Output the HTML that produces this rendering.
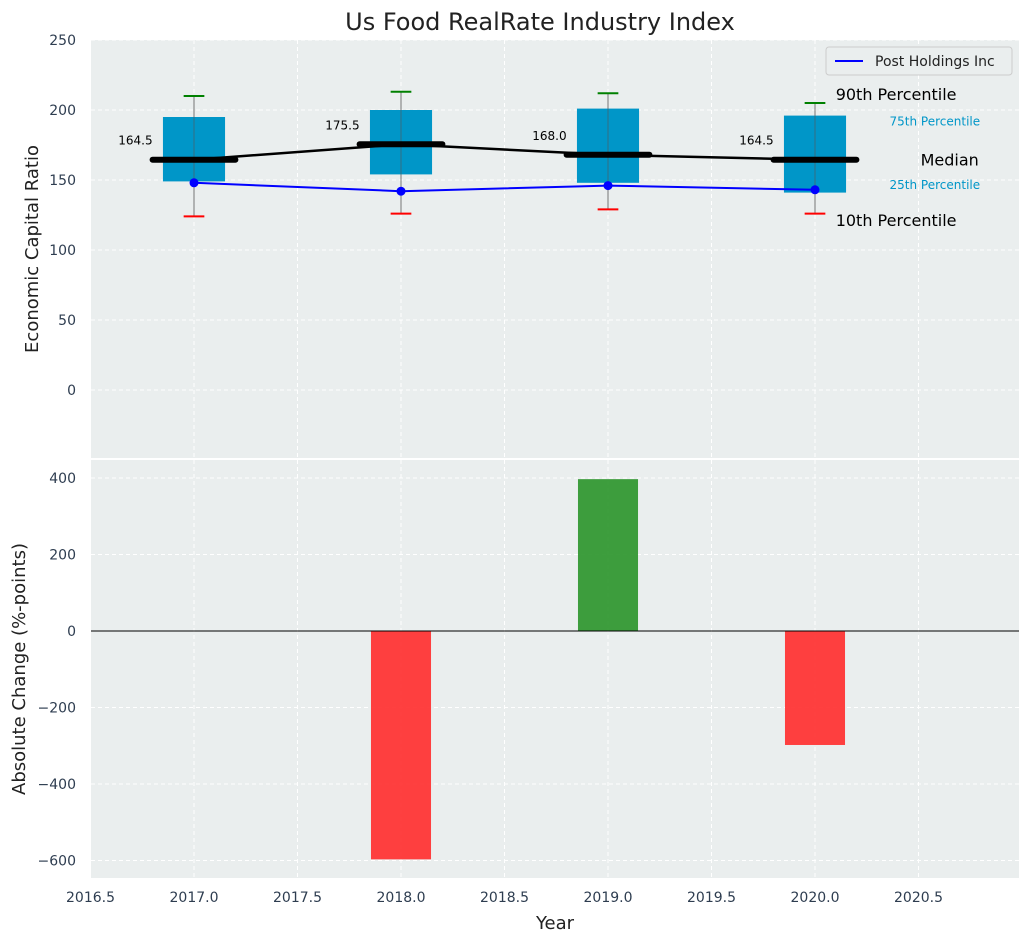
<!DOCTYPE html>
<html><head><meta charset="utf-8"><style>
body{margin:0;background:#fff;font-family:"DejaVu Sans","Liberation Sans",sans-serif;}
svg text{font-family:"DejaVu Sans","Liberation Sans",sans-serif;}
</style></head><body>
<svg id="c" width="1029" height="942" xmlns="http://www.w3.org/2000/svg"></svg>
<script>
const years=[2017,2018,2019,2020];
const p10=[124,126,129,126];
const p25=[149,154,148,141];
const medians=[164.5,175.5,168.0,164.5];
const p75=[195,200,201,196];
const p90=[210,213,212,205];
const company=[148,142,146,143];
const changes=[0,-597,397,-298];
const xTicks=[2016.5,2017,2017.5,2018,2018.5,2019,2019.5,2020,2020.5];
const yTopTicks=[0,50,100,150,200,250];
const yBotTicks=[-600,-400,-200,0,200,400];

const NS="http://www.w3.org/2000/svg";
const svg=document.getElementById('c');
function mk(t,a,p){const e=document.createElementNS(NS,t);for(const k in a)e.setAttribute(k,a[k]);(p||svg).appendChild(e);return e;}
const X0=90.5,XL=2016.5,XS=207;
const x=v=>X0+(v-XL)*XS;
const yT=v=>390-v*1.4;
const yB=v=>631-v*0.3825;
const L=91,R=1019;
const TC='#2e3d50';

let t=mk('text',{x:540,y:30,'text-anchor':'middle','font-size':24,fill:'#222'});t.textContent='Us Food RealRate Industry Index';


let bg=mk('rect',{x:L,y:40,width:R-L,height:418,fill:'#eaeeee'});

let bg2=mk('rect',{x:L,y:460,width:R-L,height:418,fill:'#eaeeee'});


xTicks.forEach(v=>{
  mk('line',{x1:x(v),x2:x(v),y1:40,y2:458,stroke:'#fff','stroke-dasharray':'4,3'});
  mk('line',{x1:x(v),x2:x(v),y1:460,y2:878,stroke:'#fff','stroke-dasharray':'4,3'});
  let l=mk('text',{x:x(v),y:902,'text-anchor':'middle','font-size':14,fill:TC});l.textContent=v.toFixed(1);
  
});
yTopTicks.forEach(v=>{
  mk('line',{x1:L,x2:R,y1:yT(v),y2:yT(v),stroke:'#fff','stroke-dasharray':'4,3'});
  let l=mk('text',{x:76,y:yT(v)+5,'text-anchor':'end','font-size':14,fill:TC});l.textContent=v;
  
});
yBotTicks.forEach(v=>{
  mk('line',{x1:L,x2:R,y1:yB(v),y2:yB(v),stroke:'#fff','stroke-dasharray':'4,3'});
  let l=mk('text',{x:76,y:yB(v)+5,'text-anchor':'end','font-size':14,fill:TC});l.textContent=(v<0?'\u2212'+(-v):v);
  
});

years.forEach((yr,i)=>{
  const g=mk('g',{});
  
  mk('line',{x1:x(yr),x2:x(yr),y1:yT(p10[i]),y2:yT(p90[i]),stroke:'#777','stroke-width':1},g);
  mk('rect',{x:x(yr-0.15),y:yT(p75[i]),width:0.3*XS,height:yT(p25[i])-yT(p75[i]),fill:'#0096c8'},g);
  mk('line',{x1:x(yr),x2:x(yr),y1:yT(p75[i]),y2:yT(p25[i]),stroke:'#555','stroke-width':1,opacity:0.6},g);
  mk('line',{x1:x(yr-0.05),x2:x(yr+0.05),y1:yT(p90[i]),y2:yT(p90[i]),stroke:'green','stroke-width':2},g);
  mk('line',{x1:x(yr-0.05),x2:x(yr+0.05),y1:yT(p10[i]),y2:yT(p10[i]),stroke:'red','stroke-width':2},g);
  mk('line',{x1:x(yr-0.2),x2:x(yr+0.2),y1:yT(medians[i]),y2:yT(medians[i]),stroke:'#000','stroke-width':6,'stroke-linecap':'round'},g);
  let l=mk('text',{x:x(yr-0.2),y:yT(medians[i])-15,'text-anchor':'end','font-size':12,fill:'#000'},g);l.textContent=medians[i].toFixed(1);
});
let mp=mk('polyline',{points:years.map((yr,i)=>x(yr)+','+yT(medians[i])).join(' '),fill:'none',stroke:'#000','stroke-width':2.5});

let cp=mk('polyline',{points:years.map((yr,i)=>x(yr)+','+yT(company[i])).join(' '),fill:'none',stroke:'blue','stroke-width':2});

years.forEach((yr,i)=>{let c=mk('circle',{cx:x(yr),cy:yT(company[i]),r:4.5,fill:'blue'});
  });

const lastYr=years[years.length-1],li=years.length-1;
[['90th Percentile',p90[li]+2,16,'#000',0.1],['75th Percentile',p75[li]-7,12,'#0096c8',0.36],['Median',medians[li]-4,16,'#000',0.51],['25th Percentile',p25[li]+2.6,12,'#0096c8',0.36],['10th Percentile',p10[li]-9,16,'#000',0.1]].forEach(a=>{
  let l=mk('text',{x:x(lastYr+a[4]),y:yT(a[1]),'font-size':a[2],fill:a[3]});l.textContent=a[0];
  
});

const lg=mk('g',{});
mk('rect',{x:826,y:47,width:186,height:28,rx:3,fill:'#eaeeee',stroke:'#ccc'},lg);
mk('line',{x1:835,x2:863,y1:61,y2:61,stroke:'blue','stroke-width':2},lg);
let lt=mk('text',{x:875,y:66,'font-size':14,fill:'#222'},lg);lt.textContent='Post Holdings Inc';

years.forEach((yr,i)=>{
  const v=changes[i];if(v===0)return;
  let b=mk('rect',{x:x(yr-0.145),y:Math.min(yB(v),yB(0)),width:0.29*XS,height:Math.abs(yB(v)-yB(0)),fill:v>0?'#2e962e':'#ff3030',opacity:0.92});
  
});
mk('line',{x1:L,x2:R,y1:yB(0),y2:yB(0),stroke:'#000','stroke-width':1});

let a1=mk('text',{x:38,y:249,'text-anchor':'middle','font-size':18,fill:'#222',transform:'rotate(-90 38 249)'});a1.textContent='Economic Capital Ratio';

let a2=mk('text',{x:25,y:669,'text-anchor':'middle','font-size':18,fill:'#222',transform:'rotate(-90 25 669)'});a2.textContent='Absolute Change (%-points)';

let a3=mk('text',{x:555,y:929,'text-anchor':'middle','font-size':18,fill:'#222'});a3.textContent='Year';

</script>
</body></html>
